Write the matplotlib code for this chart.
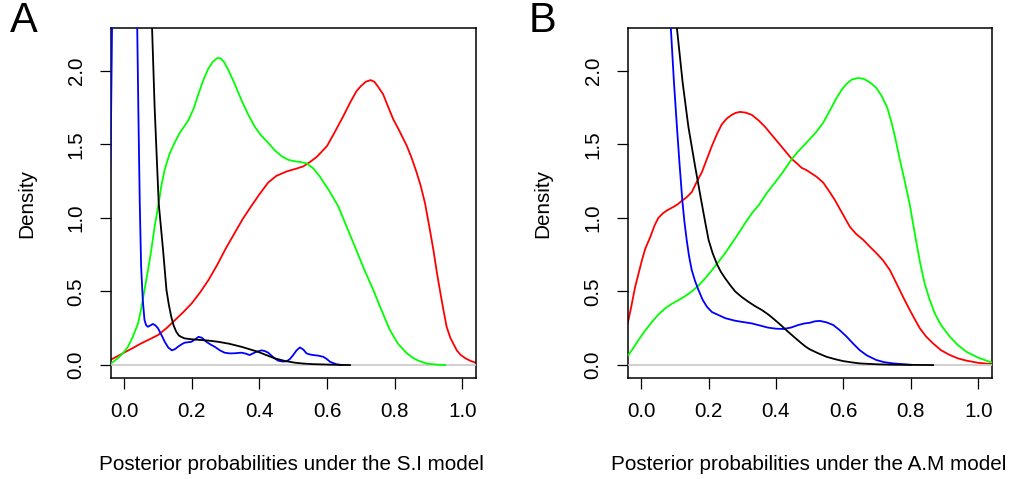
import matplotlib
matplotlib.use("Agg")
import matplotlib.pyplot as plt

plt.rcParams['font.family'] = ['Liberation Sans', 'DejaVu Sans']

# Panel A: posterior probabilities under the S.I model (density curves)
a_red_x = [-0.05, -0.04, -0.02, 0.0, 0.025, 0.05, 0.075, 0.10, 0.125, 0.15, 0.175, 0.20, 0.225,
           0.25, 0.275, 0.30, 0.325, 0.35, 0.376, 0.40, 0.426, 0.45, 0.48, 0.51, 0.53, 0.55,
           0.57, 0.60, 0.62, 0.648, 0.67, 0.687, 0.70, 0.715, 0.729, 0.74, 0.75, 0.766, 0.78,
           0.796, 0.81, 0.836, 0.85, 0.865, 0.877, 0.89, 0.902, 0.915, 0.925, 0.934, 0.944,
           0.954, 0.965, 0.975, 0.984, 0.995, 1.01, 1.025, 1.04, 1.06]
a_red_y = [0.028, 0.036, 0.06, 0.085, 0.115, 0.147, 0.175, 0.204, 0.25, 0.305, 0.36, 0.42, 0.495,
           0.58, 0.68, 0.79, 0.89, 0.99, 1.08, 1.16, 1.24, 1.285, 1.315, 1.335, 1.35, 1.38,
           1.415, 1.488, 1.57, 1.69, 1.79, 1.86, 1.895, 1.925, 1.936, 1.925, 1.895, 1.84, 1.76,
           1.67, 1.61, 1.49, 1.41, 1.31, 1.22, 1.10, 0.95, 0.78, 0.63, 0.51, 0.38,
           0.26, 0.185, 0.14, 0.10, 0.07, 0.045, 0.028, 0.016, 0.008]

a_green_x = [-0.05, -0.038, -0.019, 0.0, 0.011, 0.025, 0.041, 0.05, 0.06, 0.07, 0.08, 0.09, 0.102,
             0.11, 0.12, 0.135, 0.149, 0.165, 0.189, 0.205, 0.218, 0.233, 0.248, 0.262, 0.275,
             0.285, 0.295, 0.307, 0.325, 0.347, 0.365, 0.386, 0.405, 0.426, 0.445, 0.465, 0.485,
             0.50, 0.52, 0.54, 0.56, 0.579, 0.605, 0.633, 0.66, 0.687, 0.71, 0.737, 0.76, 0.786,
             0.81, 0.836, 0.855, 0.87, 0.895, 0.92, 0.95]
a_green_y = [0.006, 0.012, 0.046, 0.09, 0.124, 0.19, 0.283, 0.38, 0.51, 0.64, 0.78, 0.94, 1.10,
             1.22, 1.33, 1.44, 1.51, 1.58, 1.66, 1.74, 1.83, 1.93, 2.01, 2.06, 2.086,
             2.084, 2.06, 2.01, 1.92, 1.80, 1.71, 1.62, 1.56, 1.51, 1.46, 1.42, 1.395,
             1.386, 1.38, 1.37, 1.335, 1.28, 1.19, 1.08, 0.93, 0.78, 0.65, 0.51, 0.38, 0.238,
             0.145, 0.08, 0.048, 0.03, 0.01, 0.004, 0.0]

a_blue_x = [-0.05, -0.04, -0.036, -0.03, 0.0, 0.03, 0.0385, 0.042, 0.046, 0.05, 0.055, 0.06, 0.065,
            0.07, 0.078, 0.085, 0.092, 0.10, 0.11, 0.12, 0.13, 0.141, 0.15, 0.159, 0.169, 0.179,
            0.199, 0.21, 0.22, 0.23, 0.243, 0.255, 0.268, 0.283, 0.297, 0.312, 0.327, 0.347,
            0.359, 0.371, 0.388, 0.406, 0.416, 0.426, 0.44, 0.455, 0.468, 0.48, 0.49, 0.50,
            0.51, 0.52, 0.53, 0.539, 0.549, 0.559, 0.574, 0.589, 0.60, 0.609, 0.628, 0.645]
a_blue_y = [0.6, 1.45, 2.3, 3.2, 4.0, 3.2, 2.29, 1.7, 1.1, 0.67, 0.44, 0.306, 0.27,
            0.26, 0.27, 0.279, 0.27, 0.25, 0.205, 0.158, 0.12, 0.10, 0.108, 0.124, 0.14, 0.152,
            0.158, 0.175, 0.192, 0.185, 0.158, 0.14, 0.124, 0.10, 0.084, 0.079, 0.08, 0.084,
            0.078, 0.068, 0.087, 0.10, 0.095, 0.084, 0.055, 0.03, 0.024, 0.025, 0.04, 0.068,
            0.10, 0.12, 0.105, 0.08, 0.072, 0.068, 0.064, 0.056, 0.04, 0.022, 0.005, 0.0]

a_black_x = [0.075, 0.078, 0.09, 0.102, 0.115, 0.125, 0.132, 0.139, 0.146, 0.154, 0.162, 0.17,
             0.179, 0.20, 0.228, 0.25, 0.278, 0.31, 0.347, 0.37, 0.396, 0.42, 0.446, 0.475,
             0.505, 0.53, 0.56, 0.62, 0.668]
a_black_y = [3.0, 2.6, 1.75, 1.10, 0.78, 0.51, 0.41, 0.33, 0.27, 0.226, 0.20, 0.19,
             0.181, 0.175, 0.17, 0.166, 0.158, 0.145, 0.124, 0.108, 0.09, 0.068, 0.045, 0.028,
             0.016, 0.01, 0.006, 0.002, 0.0]

# Panel B: posterior probabilities under the A.M model
b_red_x = [-0.05, -0.04, -0.03, -0.018, 0.002, 0.012, 0.027, 0.04, 0.051, 0.064, 0.076, 0.088,
           0.10, 0.11, 0.12, 0.135, 0.15, 0.165, 0.18, 0.195, 0.21, 0.225, 0.239, 0.254, 0.269,
           0.28, 0.293, 0.31, 0.328, 0.347, 0.367, 0.387, 0.407, 0.427, 0.447, 0.462, 0.476,
           0.49, 0.50, 0.52, 0.54, 0.558, 0.575, 0.597, 0.619, 0.638, 0.659, 0.678, 0.698,
           0.718, 0.738, 0.752, 0.767, 0.782, 0.797, 0.812, 0.827, 0.845, 0.866, 0.89, 0.916,
           0.94, 0.965, 1.0, 1.039, 1.05]
b_red_y = [0.22, 0.283, 0.39, 0.53, 0.71, 0.79, 0.87, 0.95, 1.0, 1.03, 1.05, 1.065,
           1.08, 1.095, 1.115, 1.14, 1.175, 1.245, 1.31, 1.40, 1.49, 1.57, 1.635, 1.675, 1.70,
           1.713, 1.72, 1.715, 1.70, 1.665, 1.62, 1.565, 1.51, 1.455, 1.40, 1.37, 1.34,
           1.325, 1.31, 1.28, 1.24, 1.18, 1.12, 1.03, 0.94, 0.89, 0.85, 0.805, 0.76,
           0.71, 0.645, 0.58, 0.51, 0.44, 0.374, 0.31, 0.249, 0.195, 0.147, 0.10, 0.068,
           0.045, 0.03, 0.015, 0.007, 0.005]

b_green_x = [-0.05, -0.04, -0.025, -0.008, 0.012, 0.032, 0.052, 0.071, 0.09, 0.11, 0.13, 0.15,
             0.17, 0.19, 0.21, 0.229, 0.249, 0.269, 0.289, 0.308, 0.328, 0.35, 0.373, 0.397,
             0.42, 0.447, 0.465, 0.486, 0.50, 0.516, 0.528, 0.54, 0.56, 0.58, 0.595, 0.609,
             0.625, 0.644, 0.66, 0.679, 0.697, 0.713, 0.73, 0.743, 0.755, 0.767, 0.782, 0.796,
             0.806, 0.817, 0.828, 0.841, 0.855, 0.871, 0.89, 0.916, 0.94, 0.965, 1.0, 1.039, 1.05]
b_green_y = [0.05, 0.061, 0.11, 0.17, 0.235, 0.294, 0.345, 0.385, 0.415, 0.44, 0.468, 0.50,
             0.54, 0.59, 0.645, 0.70, 0.76, 0.827, 0.895, 0.963, 1.03, 1.09, 1.17, 1.24,
             1.31, 1.40, 1.45, 1.50, 1.535, 1.574, 1.61, 1.646, 1.73, 1.816, 1.87, 1.91,
             1.94, 1.95, 1.945, 1.92, 1.885, 1.83, 1.75, 1.646, 1.53, 1.40, 1.25, 1.10,
             0.97, 0.827, 0.69, 0.555, 0.45, 0.351, 0.27, 0.192, 0.135, 0.09, 0.05, 0.018, 0.014]

b_blue_x = [0.075, 0.088, 0.097, 0.106, 0.114, 0.122, 0.128, 0.135, 0.142, 0.15, 0.16, 0.17,
            0.182, 0.195, 0.21, 0.229, 0.25, 0.279, 0.30, 0.328, 0.35, 0.377, 0.40, 0.422,
            0.445, 0.466, 0.485, 0.50, 0.515, 0.53, 0.55, 0.57, 0.59, 0.61, 0.63, 0.649,
            0.67, 0.698, 0.72, 0.748, 0.80]
b_blue_y = [3.2, 2.29, 1.93, 1.62, 1.36, 1.12, 0.98, 0.85, 0.74, 0.645, 0.57, 0.51,
            0.445, 0.396, 0.36, 0.34, 0.318, 0.301, 0.293, 0.283, 0.27, 0.254, 0.247, 0.245,
            0.255, 0.272, 0.283, 0.287, 0.297, 0.30, 0.29, 0.272, 0.235, 0.192, 0.143, 0.10,
            0.065, 0.034, 0.02, 0.011, 0.002]

b_black_x = [0.095, 0.106, 0.123, 0.14, 0.16, 0.178, 0.19, 0.20, 0.212, 0.224, 0.236, 0.249,
             0.264, 0.279, 0.298, 0.318, 0.338, 0.358, 0.378, 0.397, 0.416, 0.436, 0.456,
             0.476, 0.488, 0.50, 0.525, 0.55, 0.575, 0.599, 0.625, 0.649, 0.70, 0.75, 0.866]
b_black_y = [3.0, 2.29, 1.92, 1.62, 1.35, 1.12, 0.97, 0.85, 0.76, 0.69, 0.635, 0.59,
             0.543, 0.50, 0.463, 0.43, 0.40, 0.374, 0.342, 0.306, 0.268, 0.226, 0.186,
             0.147, 0.125, 0.107, 0.08, 0.056, 0.04, 0.027, 0.018, 0.011, 0.005, 0.002, 0.0]

x_ticks = [0.0, 0.2, 0.4, 0.6, 0.8, 1.0]
y_ticks = [0.0, 0.5, 1.0, 1.5, 2.0]
x_labels = ["0.0", "0.2", "0.4", "0.6", "0.8", "1.0"]
y_labels = ["0.0", "0.5", "1.0", "1.5", "2.0"]

FS = 14.9
W, H = 1010, 479


def density_panel(ax, curves):
    red, others = curves[0], curves[1:]
    # R draws the first curve, then the grey zero line, then the rest with lines()
    ax.plot(red[0], red[1], color='#ff0000', lw=1.3, zorder=2, solid_joinstyle='round')
    ax.axhline(0, color='#c8c8c8', lw=1.2, zorder=3)
    for (xs, ys), col in zip(others, ['#00ff00', '#0000ff', '#000000']):
        ax.plot(xs, ys, color=col, lw=1.3, zorder=4, solid_joinstyle='round')

    ax.set_xlim(-0.04, 1.04)
    ax.set_ylim(-0.088, 2.288)
    ax.set_xticks(x_ticks)
    ax.set_xticklabels(x_labels)
    ax.set_yticks(y_ticks)
    ax.set_yticklabels(y_labels, rotation=90, va='center')
    ax.tick_params(direction='out', length=8, width=0.9, labelsize=FS, colors='black')
    ax.tick_params(axis='x', pad=9)
    ax.tick_params(axis='y', pad=10)
    for s in ax.spines.values():
        s.set_linewidth(1.1)
        s.set_color('black')


fig = plt.figure(figsize=(W / 100, H / 100), dpi=100)

axA = fig.add_axes([110.7 / W, (H - 378) / H, 365 / W, 349.7 / H])
density_panel(axA, [(a_red_x, a_red_y), (a_green_x, a_green_y),
                    (a_blue_x, a_blue_y), (a_black_x, a_black_y)])

axB = fig.add_axes([627.7 / W, (H - 378) / H, 364 / W, 349.7 / H])
density_panel(axB, [(b_red_x, b_red_y), (b_green_x, b_green_y),
                    (b_blue_x, b_blue_y), (b_black_x, b_black_y)])

# axis titles and panel letters
fig.text(291 / W, 1 - 465 / H, "Posterior probabilities under the S.I model",
         ha='center', va='center', fontsize=FS)
fig.text(809 / W, 1 - 465 / H, "Posterior probabilities under the A.M model",
         ha='center', va='center', fontsize=FS)
fig.text(27 / W, 1 - 203 / H, "Density", rotation=90, ha='center', va='center', fontsize=FS)
fig.text(543 / W, 1 - 203 / H, "Density", rotation=90, ha='center', va='center', fontsize=FS)
fig.text(24 / W, 1 - 21 / H, "A", ha='center', va='center', fontsize=30)
fig.text(543 / W, 1 - 21 / H, "B", ha='center', va='center', fontsize=30)

fig.savefig("out.png", dpi=100)
